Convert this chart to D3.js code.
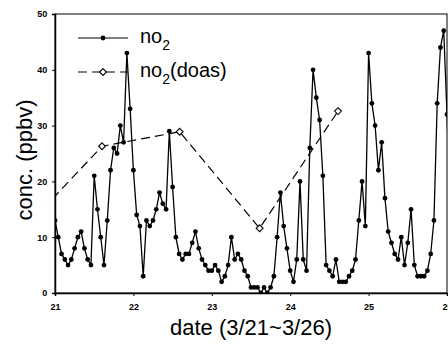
<!DOCTYPE html>
<html>
<head>
<meta charset="utf-8">
<script src="https://cdn.jsdelivr.net/npm/d3@7"></script>
<style>
  body { margin: 0; background: #fff; }
  svg { display: block; font-family: Arial, "Liberation Sans", sans-serif; }
</style>
</head>
<body>
<div id="chart"></div>
<script>
// hourly no2 (ppbv), 3/21 00h .. 3/26 00h
const no2 = [
  13,10,7,6,5,6,8,10,11,8,6,5,21,15,10,5,13,22,26,25,30,27,43,33,
  22,14,12,3,13,12,13,15,18,16,15,29,19,10,7,6,7,7,9,11,8,6,5,4,
  4,5,4,2,3,5,10,6,7,6,4,3,1,1,1,0,1,0,1,3,10,18,12,8,
  4,2,6,20,6,4,26,40,35,31,21,5,4,3,6,2,2,2,3,4,6,13,20,12,
  43,34,30,22,27,17,11,9,7,6,10,5,9,15,5,3,3,3,4,7,13,34,44,47,32,
  14
];
const startDay = 21;

// DOAS measurements
const doasDay = [20.6, 21.6, 22.59, 23.61, 24.61];
const doasVal = [11.4, 26.3, 28.9, 11.6, 32.6];

const xTicks = [21, 22, 23, 24, 25, 26];
const yTicks = [0, 10, 20, 30, 40, 50];

const width = 448, height = 345;
const margin = {top: 14, right: 1, bottom: 52, left: 55};

const svg = d3.select("#chart").append("svg")
    .attr("width", width)
    .attr("height", height);

const x = d3.scaleLinear().domain([21, 26]).range([margin.left, width - margin.right]);
const y = d3.scaleLinear().domain([0, 50]).range([height - margin.bottom, margin.top]);

svg.append("defs").append("clipPath")
    .attr("id", "plotClip")
  .append("rect")
    .attr("x", x(21)).attr("y", y(50))
    .attr("width", x(26) - x(21)).attr("height", y(0) - y(50));

// frame
svg.append("rect")
    .attr("x", x(21)).attr("y", y(50))
    .attr("width", x(26) - x(21)).attr("height", y(0) - y(50))
    .attr("fill", "none")
    .attr("stroke", "#000")
    .attr("stroke-width", 1);

const xAxis = svg.append("g")
    .attr("transform", `translate(0,${y(0)})`)
    .call(d3.axisBottom(x).tickValues(xTicks).tickSize(3).tickFormat(d3.format("d")));
const yAxis = svg.append("g")
    .attr("transform", `translate(${x(21)},0)`)
    .call(d3.axisLeft(y).tickValues(yTicks).tickSize(3));

[xAxis, yAxis].forEach(g => {
  g.select(".domain").attr("stroke", "#000").attr("stroke-width", 1.5);
  g.selectAll(".tick line").attr("stroke", "#000");
  g.selectAll(".tick text")
      .attr("fill", "#000")
      .style("font-size", "9px")
      .style("font-weight", "bold");
});
xAxis.selectAll(".tick text").attr("dy", "1.2em");
yAxis.selectAll(".tick text").attr("dx", "-0.2em");

// axis titles
svg.append("text")
    .attr("x", 251)
    .attr("y", 335)
    .attr("text-anchor", "middle")
    .style("font-size", "22px")
    .text("date (3/21~3/26)");

svg.append("text")
    .attr("transform", `translate(32,160) rotate(-90)`)
    .attr("text-anchor", "middle")
    .style("font-size", "22px")
    .text("conc. (ppbv)");

const plot = svg.append("g").attr("clip-path", "url(#plotClip)");

// doas dashed line
const doas = doasDay.map((d, i) => ({t: d, v: doasVal[i]}));
plot.append("path")
    .datum(doas)
    .attr("fill", "none")
    .attr("stroke", "#000")
    .attr("stroke-width", 1.2)
    .attr("stroke-dasharray", "9,5")
    .attr("d", d3.line().x(d => x(d.t)).y(d => y(d.v)));

// no2 solid line + dots
const hourly = no2.map((v, i) => ({t: startDay + i / 24, v: v}));
plot.append("path")
    .datum(hourly)
    .attr("fill", "none")
    .attr("stroke", "#000")
    .attr("stroke-width", 1.3)
    .attr("d", d3.line().x(d => x(d.t)).y(d => y(d.v)));

plot.selectAll("circle.no2")
    .data(hourly)
    .enter().append("circle")
    .attr("class", "no2")
    .attr("cx", d => x(d.t))
    .attr("cy", d => y(d.v))
    .attr("r", 2.4)
    .attr("fill", "#000");

// square rotated 45deg, like the original open diamond
const diamond = d3.symbol().type(d3.symbolDiamond2 || d3.symbolDiamond).size(30);
plot.selectAll("path.doas")
    .data(doas)
    .enter().append("path")
    .attr("class", "doas")
    .attr("transform", d => `translate(${x(d.t)},${y(d.v)})`)
    .attr("d", diamond)
    .attr("fill", "#fff")
    .attr("stroke", "#000")
    .attr("stroke-width", 1.1);

// legend
const legend = svg.append("g");
const rows = [
  {label: "no", sub: "2", tail: "", dashed: false, yy: 38},
  {label: "no", sub: "2", tail: "(doas)", dashed: true, yy: 72}
];
rows.forEach(r => {
  legend.append("line")
      .attr("x1", 78).attr("x2", 128)
      .attr("y1", r.yy).attr("y2", r.yy)
      .attr("stroke", "#000")
      .attr("stroke-width", 1.2)
      .attr("stroke-dasharray", r.dashed ? "9,5" : null);
  if (r.dashed) {
    legend.append("path")
        .attr("transform", `translate(103,${r.yy})`)
        .attr("d", diamond)
        .attr("fill", "#fff")
        .attr("stroke", "#000")
        .attr("stroke-width", 1.1);
  } else {
    legend.append("circle")
        .attr("cx", 103).attr("cy", r.yy).attr("r", 2.4)
        .attr("fill", "#000");
  }
  const t = legend.append("text")
      .attr("x", 140)
      .attr("y", r.yy + 5)
      .style("font-size", "20px");
  t.append("tspan").text(r.label);
  t.append("tspan").attr("dy", 7).style("font-size", "14px").text(r.sub);
  if (r.tail) t.append("tspan").attr("dy", -7).text(r.tail);
});
</script>
</body>
</html>
